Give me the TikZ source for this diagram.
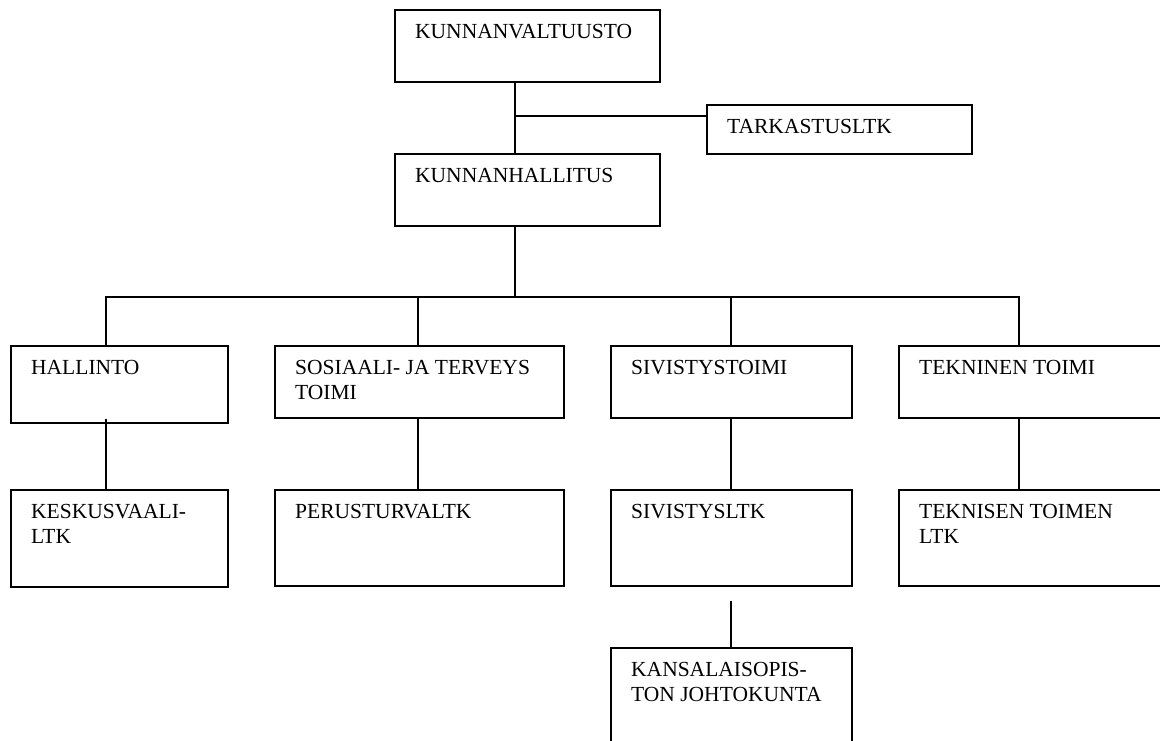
\documentclass[tikz,border=0pt]{standalone}
\usepackage{fontspec}
\setmainfont{Liberation Serif}
\begin{document}
\begin{tikzpicture}[x=1pt,y=-1pt,
    box/.style={draw,line width=1.6pt,anchor=north west,inner sep=0pt},
    conn/.style={line width=1.6pt},
    lbl/.style={anchor=north west,inner sep=0pt,align=left,xshift=21pt,yshift=-15.5pt,
        font=\fontsize{21.5}{24.5}\selectfont}]
    \useasboundingbox (0,0) rectangle (1160,740);

    \node[box,minimum width=265pt,minimum height=72pt,label={[lbl]north west:KUNNANVALTUUSTO}] (kv) at (394,9) {};
    \node[box,minimum width=265pt,minimum height=49pt,label={[lbl]north west:TARKASTUSLTK}] (tark) at (706,104) {};
    \node[box,minimum width=265pt,minimum height=72pt,label={[lbl]north west:KUNNANHALLITUS}] (kh) at (394,153) {};

    \node[box,minimum width=217pt,minimum height=77pt,label={[lbl]north west:HALLINTO}] (hall) at (10,345) {};
    \node[box,minimum width=289pt,minimum height=72pt,label={[lbl]north west:{SOSIAALI- JA TERVEYS\\TOIMI}}] (sos) at (274,345) {};
    \node[box,minimum width=241pt,minimum height=72pt,label={[lbl]north west:SIVISTYSTOIMI}] (siv) at (610,345) {};
    \node[box,minimum width=292pt,minimum height=72pt,label={[lbl]north west:TEKNINEN TOIMI}] (tek) at (898,345) {};

    \node[box,minimum width=217pt,minimum height=97pt,label={[lbl]north west:{KESKUSVAALI-\\LTK}}] (kesk) at (10,489) {};
    \node[box,minimum width=289pt,minimum height=96pt,label={[lbl]north west:PERUSTURVALTK}] (perus) at (274,489) {};
    \node[box,minimum width=241pt,minimum height=96pt,label={[lbl]north west:SIVISTYSLTK}] (sivltk) at (610,489) {};
    \node[box,minimum width=292pt,minimum height=96pt,label={[lbl]north west:{TEKNISEN TOIMEN\\LTK}}] (tekltk) at (898,489) {};

    \node[box,minimum width=241pt,minimum height=110pt,label={[lbl]north west:{KANSALAISOPIS-\\TON JOHTOKUNTA}}] (kans) at (610,647) {};

    \coordinate (tee) at (515,116);
    \coordinate (bus) at (515,297);

    \draw[conn] ([xshift=121pt]kv.south west) -- ([xshift=121pt]kh.north west);
    \draw[conn] (tee) -- (tee -| tark.west);
    \draw[conn] ([xshift=121pt]kh.south west) -- (bus);

    \draw[conn] ([xshift=96pt]hall.north west) |- (bus);
    \draw[conn] ([xshift=144pt]sos.north west) |- (bus);
    \draw[conn] ([xshift=121pt]siv.north west) |- (bus);
    \draw[conn] ([xshift=121pt]tek.north west) |- (bus);

    \draw[conn] ([xshift=96pt,yshift=5pt]hall.south west) -- ([xshift=96pt]kesk.north west);
    \draw[conn] ([xshift=144pt]sos.south west) -- ([xshift=144pt]perus.north west);
    \draw[conn] ([xshift=121pt]siv.south west) -- ([xshift=121pt]sivltk.north west);
    \draw[conn] ([xshift=121pt]tek.south west) -- ([xshift=121pt]tekltk.north west);
    \draw[conn] ([xshift=121pt,yshift=-14pt]sivltk.south west) -- ([xshift=121pt]kans.north west);
\end{tikzpicture}
\end{document}
